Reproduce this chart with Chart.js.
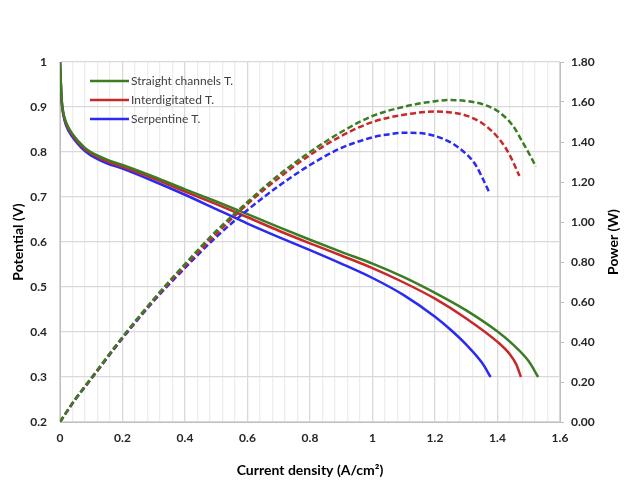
<!DOCTYPE html>
<html>
<head>
<meta charset="utf-8">
<script src="https://cdn.jsdelivr.net/npm/chart.js"></script>
<style>
  html, body { margin: 0; padding: 0; background: #fff; }
  #wrap { width: 628px; height: 482px; }
</style>
</head>
<body>
<div id="wrap"><canvas id="chart" width="628" height="482"></canvas></div>
<script>
// current density (A/cm2) and potential (V)
const straightI = [0, 0.005, 0.01, 0.02, 0.04, 0.06, 0.08, 0.1, 0.15, 0.2, 0.3, 0.4, 0.5, 0.6, 0.7, 0.8, 0.9, 1.0, 1.1, 1.2, 1.3, 1.4, 1.45, 1.5, 1.53];
const straightV = [1.0, 0.92, 0.89, 0.865, 0.84, 0.823, 0.809, 0.799, 0.783, 0.771, 0.745, 0.717, 0.69, 0.662, 0.633, 0.605, 0.578, 0.552, 0.522, 0.487, 0.448, 0.401, 0.372, 0.335, 0.30];
const interI = [0, 0.005, 0.01, 0.02, 0.04, 0.06, 0.08, 0.1, 0.15, 0.2, 0.3, 0.4, 0.5, 0.6, 0.7, 0.8, 0.9, 1.0, 1.1, 1.2, 1.3, 1.4, 1.44, 1.46, 1.475];
const interV = [1.0, 0.918, 0.888, 0.862, 0.837, 0.82, 0.806, 0.796, 0.779, 0.767, 0.741, 0.712, 0.684, 0.655, 0.625, 0.597, 0.57, 0.542, 0.51, 0.474, 0.43, 0.378, 0.35, 0.328, 0.30];
const serpI = [0, 0.005, 0.01, 0.02, 0.04, 0.06, 0.08, 0.1, 0.15, 0.2, 0.3, 0.4, 0.5, 0.6, 0.7, 0.8, 0.9, 1.0, 1.1, 1.2, 1.25, 1.3, 1.35, 1.378];
const serpV = [1.0, 0.915, 0.885, 0.858, 0.833, 0.816, 0.802, 0.792, 0.775, 0.763, 0.735, 0.705, 0.673, 0.641, 0.611, 0.582, 0.552, 0.52, 0.482, 0.434, 0.405, 0.372, 0.332, 0.30];

// power (W)
const straightPI = [0, 0.02, 0.05, 0.1, 0.2, 0.3, 0.4, 0.5, 0.6, 0.7, 0.8, 0.9, 1.0, 1.1, 1.2, 1.25, 1.3, 1.35, 1.4, 1.45, 1.48, 1.5, 1.523];
const straightP = [0, 0.048, 0.117, 0.22, 0.425, 0.615, 0.79, 0.955, 1.1, 1.235, 1.35, 1.45, 1.53, 1.576, 1.604, 1.61, 1.605, 1.59, 1.555, 1.48, 1.40, 1.345, 1.277];
const interPI = [0, 0.02, 0.05, 0.1, 0.2, 0.3, 0.4, 0.5, 0.6, 0.7, 0.8, 0.9, 1.0, 1.1, 1.2, 1.25, 1.3, 1.35, 1.4, 1.43, 1.45, 1.47];
const interP = [0, 0.048, 0.116, 0.218, 0.422, 0.61, 0.78, 0.94, 1.09, 1.22, 1.335, 1.43, 1.5, 1.536, 1.552, 1.548, 1.532, 1.495, 1.425, 1.36, 1.30, 1.23];
const serpPI = [0, 0.02, 0.05, 0.1, 0.2, 0.3, 0.4, 0.5, 0.6, 0.7, 0.8, 0.9, 1.0, 1.05, 1.1, 1.15, 1.2, 1.25, 1.3, 1.33, 1.355, 1.376];
const serpP = [0, 0.047, 0.114, 0.215, 0.418, 0.605, 0.77, 0.925, 1.06, 1.18, 1.285, 1.37, 1.423, 1.438, 1.446, 1.445, 1.43, 1.398, 1.34, 1.285, 1.21, 1.14];

const seriesNames = ['Straight channels T.', 'Interdigitated T.', 'Serpentine T.'];
const seriesColors = ['#3b7d23', '#c8282a', '#2a2af2'];

const xTickLabels = ['0', '0.2', '0.4', '0.6', '0.8', '1', '1.2', '1.4', '1.6'];
const yTickLabels = ['0.2', '0.3', '0.4', '0.5', '0.6', '0.7', '0.8', '0.9', '1'];
const y2TickLabels = ['0.00', '0.20', '0.40', '0.60', '0.80', '1.00', '1.20', '1.40', '1.60', '1.80'];

const pts = (xs, ys) => xs.map((x, i) => ({ x: x, y: ys[i] }));
const FONT = 'Lato, "Open Sans", sans-serif';

function lineSet(label, xs, ys, color, axis, dashed) {
    return {
        label: label,
        data: pts(xs, ys),
        borderColor: color,
        backgroundColor: color,
        borderWidth: 2.5,
        borderDash: dashed ? [6, 3] : [],
        pointRadius: 0,
        fill: false,
        cubicInterpolationMode: 'monotone',
        yAxisID: axis
    };
}

// legend with line samples inside the plot, and the right axis title read bottom-up
const extras = {
    id: 'extras',
    afterDraw(chart) {
        const c = chart.ctx;
        c.save();
        c.font = '12px ' + FONT;
        c.textBaseline = 'middle';
        seriesNames.forEach((name, i) => {
            const y = 81 + i * 19;
            c.strokeStyle = seriesColors[i];
            c.lineWidth = 2.5;
            c.beginPath();
            c.moveTo(90, y);
            c.lineTo(129, y);
            c.stroke();
            c.fillStyle = '#404040';
            c.fillText(name, 131, y);
        });

        const area = chart.chartArea;
        c.translate(613, (area.top + area.bottom) / 2);
        c.rotate(-Math.PI / 2);
        c.font = 'bold 14px ' + FONT;
        c.fillStyle = '#000';
        c.textAlign = 'center';
        c.fillText('Power (W)', 0, 0);
        c.restore();
    }
};

new Chart(document.getElementById('chart'), {
    type: 'line',
    data: {
        datasets: [
            lineSet(seriesNames[0] + ' P', straightPI, straightP, seriesColors[0], 'y2', true),
            lineSet(seriesNames[1] + ' P', interPI, interP, seriesColors[1], 'y2', true),
            lineSet(seriesNames[2] + ' P', serpPI, serpP, seriesColors[2], 'y2', true),
            lineSet(seriesNames[0], straightI, straightV, seriesColors[0], 'y', false),
            lineSet(seriesNames[1], interI, interV, seriesColors[1], 'y', false),
            lineSet(seriesNames[2], serpI, serpV, seriesColors[2], 'y', false)
        ]
    },
    options: {
        responsive: false,
        animation: false,
        layout: { padding: { top: 62, left: 0, right: 0, bottom: 0 } },
        plugins: {
            legend: { display: false },
            tooltip: { enabled: false }
        },
        scales: {
            x: {
                type: 'linear',
                min: 0,
                max: 1.6,
                afterFit: s => { s.height = 60; },
                border: { color: '#bfbfbf' },
                grid: {
                    color: ctx => (ctx.index % 5 === 0 ? '#d9d9d9' : '#ededed'),
                    lineWidth: 1.3,
                    drawTicks: false
                },
                ticks: {
                    stepSize: 0.04,
                    autoSkip: false,
                    maxRotation: 0,
                    padding: 9,
                    color: '#262626',
                    font: { family: FONT, size: 12, weight: 'bold' },
                    callback: (v, i) => (i % 5 === 0 ? xTickLabels[i / 5] : '')
                },
                title: {
                    display: true,
                    text: 'Current density (A/cm²)',
                    color: '#000',
                    font: { family: FONT, size: 14, weight: 'bold' },
                    padding: { top: 0, bottom: 3 }
                }
            },
            y: {
                position: 'left',
                min: 0.2,
                max: 1,
                afterFit: s => { s.width = 60; },
                border: { color: '#bfbfbf' },
                grid: { color: '#d9d9d9', lineWidth: 1.3, drawTicks: false },
                ticks: {
                    stepSize: 0.1,
                    padding: 13,
                    color: '#262626',
                    font: { family: FONT, size: 12, weight: 'bold' },
                    callback: (v, i) => yTickLabels[i]
                },
                title: {
                    display: true,
                    text: 'Potential (V)',
                    color: '#000',
                    font: { family: FONT, size: 14, weight: 'bold' },
                    padding: { top: 10, bottom: 0 }
                }
            },
            y2: {
                position: 'right',
                min: 0,
                max: 1.8,
                afterFit: s => { s.width = 68; },
                border: { color: '#bfbfbf' },
                grid: { drawOnChartArea: false, color: '#bfbfbf', tickLength: 4 },
                ticks: {
                    stepSize: 0.2,
                    padding: 7,
                    color: '#262626',
                    font: { family: FONT, size: 12, weight: 'bold' },
                    callback: (v, i) => y2TickLabels[i]
                }
            }
        }
    },
    plugins: [extras]
});
</script>
</body>
</html>
